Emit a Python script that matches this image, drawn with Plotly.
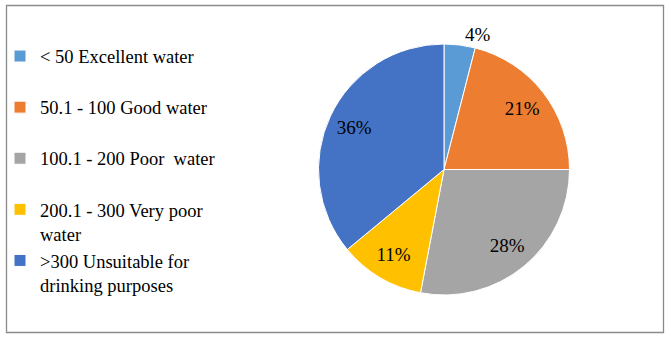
import plotly.graph_objects as go

categories = [
    "< 50 Excellent water",
    "50.1 - 100 Good water",
    "100.1 - 200 Poor  water",
    "200.1 - 300 Very poor<br>water",
    ">300 Unsuitable for<br>drinking purposes",
]
values = [4, 21, 28, 11, 36]
colors = ["#5B9BD5", "#ED7D31", "#A5A5A5", "#FFC000", "#4472C4"]
text_positions = ["outside", "inside", "inside", "inside", "inside"]

W, H = 671, 337
FONT = "Liberation Serif"
# pad single-line entries so every legend entry has the same height
display_labels = [c if "<br>" in c else c + "<br> " for c in categories]
domain = dict(x=[318.5 / W, 569.5 / W], y=[42 / H, 293 / H])

fig = go.Figure()
# coloured pie, provides the legend
fig.add_trace(
    go.Pie(
        labels=display_labels,
        values=values,
        sort=False,
        direction="clockwise",
        rotation=0,
        marker=dict(colors=colors, line=dict(color="white", width=1)),
        textinfo="none",
        domain=domain,
        hoverinfo="label+percent",
    )
)
# transparent ring carrying the percentage labels near the rim
fig.add_trace(
    go.Pie(
        labels=display_labels,
        values=values,
        sort=False,
        direction="clockwise",
        rotation=0,
        hole=0.58,
        marker=dict(colors=["rgba(0,0,0,0)"] * len(values), line=dict(width=0)),
        texttemplate="%{percent:.0%}",
        textposition=text_positions,
        insidetextorientation="horizontal",
        textfont=dict(family=FONT, size=19, color="black"),
        domain=domain,
        showlegend=False,
        hoverinfo="skip",
    )
)

fig.update_layout(
    width=W,
    height=H,
    margin=dict(l=0, r=0, t=0, b=0),
    paper_bgcolor="white",
    plot_bgcolor="white",
    font=dict(family=FONT, size=18.5, color="black"),
    showlegend=True,
    legend=dict(
        x=0.0,
        xanchor="left",
        y=1 - 37.5 / H,
        yanchor="top",
        valign="top",
        bgcolor="rgba(0,0,0,0)",
        font=dict(family=FONT, size=18.5, color="black"),
    ),
    shapes=[
        dict(
            type="rect",
            xref="paper",
            yref="paper",
            x0=6.5 / W,
            x1=663.5 / W,
            y0=4.5 / H,
            y1=331.5 / H,
            line=dict(color="#8A8A8A", width=1.3),
            fillcolor="rgba(0,0,0,0)",
            layer="below",
        )
    ],
)

fig.write_html("out.html")
